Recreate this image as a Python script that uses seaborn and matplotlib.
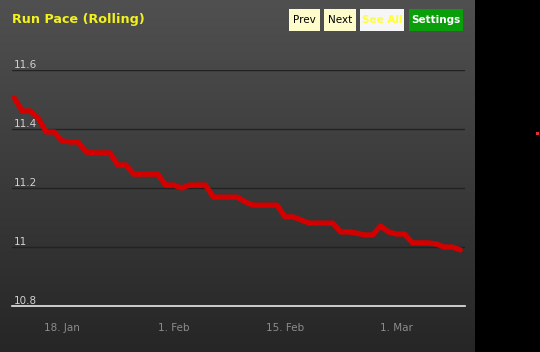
import matplotlib
matplotlib.use('Agg')
import matplotlib.pyplot as plt
import matplotlib.dates as mdates
from matplotlib.patches import FancyBboxPatch, Rectangle
import seaborn as sns
import pandas as pd
import numpy as np

# data: one rolling pace value per day, 12 Jan -> 9 Mar
start_date = '2015-01-12'
pace = [11.505, 11.461, 11.461, 11.437, 11.390, 11.390, 11.360, 11.356, 11.356, 11.322,
        11.319, 11.319, 11.319, 11.278, 11.278, 11.247, 11.247, 11.247, 11.247, 11.210,
        11.210, 11.200, 11.210, 11.210, 11.210, 11.169, 11.169, 11.169, 11.169, 11.153,
        11.142, 11.142, 11.142, 11.142, 11.102, 11.102, 11.092, 11.081, 11.081, 11.081,
        11.081, 11.051, 11.051, 11.047, 11.041, 11.041, 11.071, 11.051, 11.044, 11.044,
        11.014, 11.014, 11.014, 11.010, 11.000, 11.000, 10.990]
y_ticks = [10.8, 11.0, 11.2, 11.4, 11.6]
y_tick_labels = ['10.8', '11', '11.2', '11.4', '11.6']
x_ticks = ['2015-01-18', '2015-02-01', '2015-02-15', '2015-03-01']
buttons = ['Prev', 'Next', 'See All', 'Settings']

dates = pd.date_range(start_date, periods=len(pace), freq='D')
df = pd.DataFrame({'date': dates, 'pace': pace})

sns.set_style('dark')
plt.rcParams['font.family'] = ['DejaVu Sans']

W, H = 540, 352
fig = plt.figure(figsize=(W / 100, H / 100), dpi=100, facecolor='black')

# gradient panel background
bg = fig.add_axes([0, 0, 475 / W, 1])
grad = np.linspace(0, 1, 256).reshape(-1, 1)
cmap = matplotlib.colors.LinearSegmentedColormap.from_list('panel', ['#505050', '#262626'])
bg.imshow(grad, aspect='auto', cmap=cmap, extent=[0, 1, 0, 1], origin='upper')
bg.set_axis_off()

ax = fig.add_axes([12 / W, (H - 306) / H, 453 / W, 236 / H])
ax.patch.set_alpha(0)
sns.lineplot(data=df, x='date', y='pace', ax=ax, color='#d40000', linewidth=3.8,
             solid_joinstyle='round', solid_capstyle='round')

ax.set_ylim(10.8, 11.6)
x0 = dates[0] - pd.Timedelta(hours=7)
x1 = dates[0] + pd.Timedelta(days=56.6)
ax.set_xlim(x0, x1)

ax.set_yticks(y_ticks)
ax.set_yticklabels(y_tick_labels)
ax.tick_params(axis='y', length=0, pad=-1, labelsize=7.5, labelcolor='#d0d0d0')
for lab in ax.get_yticklabels():
    lab.set_horizontalalignment('left')
    lab.set_verticalalignment('bottom')
ax.grid(axis='y', color='#222222', linewidth=1)
ax.grid(axis='x', visible=False)

ax.set_xticks(pd.to_datetime(x_ticks))
ax.xaxis.set_major_formatter(mdates.DateFormatter('%-d. %b'))
ax.tick_params(axis='x', length=9, width=1, color='#e0e0e0', direction='out',
               labelsize=7.5, labelcolor='#8c8c8c', pad=3)

for side in ['top', 'right', 'left']:
    ax.spines[side].set_visible(False)
ax.spines['bottom'].set_color('#e8e8e8')
ax.spines['bottom'].set_linewidth(1.2)
ax.set_xlabel('')
ax.set_ylabel('')

# title
fig.text(12 / W, 1 - 20 / H, 'Run Pace (Rolling)', color='#f2f21e', fontsize=9.2,
         fontweight='bold', va='center', ha='left')

# buttons
btn_specs = [(289, 320, '#fffccc', 'black', 'normal'),
             (324, 356, '#fffccc', 'black', 'normal'),
             (360, 404, '#f6f6f6', '#ffff33', 'bold'),
             (409, 463, '#0a9e0a', 'white', 'bold')]
for label, (bx0, bx1, fc, tc, fw) in zip(buttons, btn_specs):
    rect = FancyBboxPatch((bx0 / W, 1 - 31 / H), (bx1 - bx0) / W, 22 / H,
                          boxstyle='square,pad=0', transform=fig.transFigure,
                          facecolor=fc, edgecolor='none')
    fig.patches.append(rect)
    fig.text((bx0 + bx1) / 2 / W, 1 - 20 / H, label, color=tc, fontsize=7.5,
             fontweight=fw, ha='center', va='center')

# small red marker at far right
fig.patches.append(Rectangle((535.5 / W, 1 - 134.5 / H), 3 / W, 3 / H,
                             transform=fig.transFigure, facecolor='#e03030',
                             edgecolor='none'))

fig.savefig('out.png', dpi=100, facecolor='black')
